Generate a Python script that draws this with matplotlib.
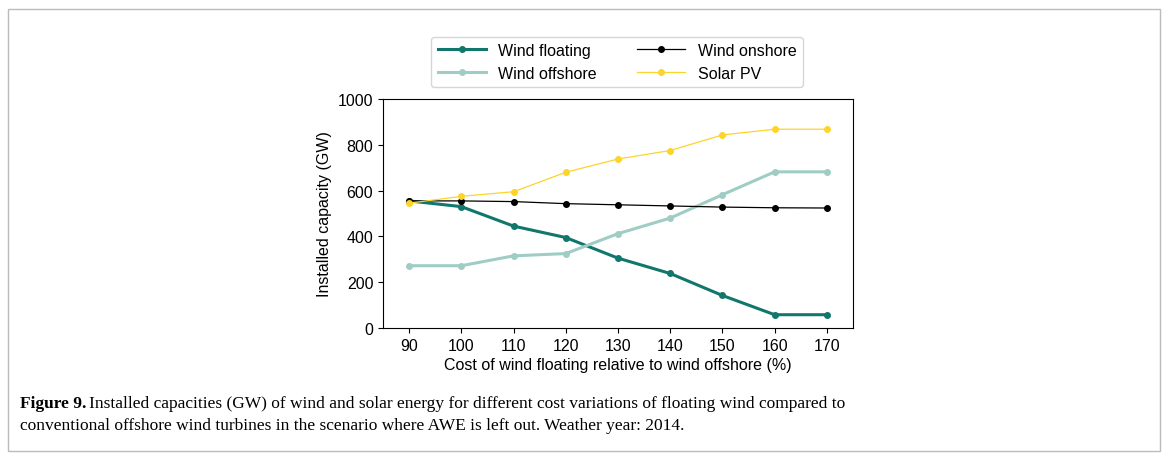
import matplotlib
matplotlib.use("Agg")
import matplotlib.pyplot as plt
from matplotlib.patches import Rectangle

plt.rcParams['font.family'] = ['Liberation Sans', 'DejaVu Sans']

cost = [90, 100, 110, 120, 130, 140, 150, 160, 170]
wind_floating = [555, 530, 445, 395, 305, 238, 142, 58, 58]
wind_offshore = [272, 272, 315, 325, 412, 480, 582, 682, 682]
wind_onshore = [555, 555, 552, 543, 538, 533, 528, 525, 524]
solar_pv = [545, 575, 595, 680, 738, 775, 843, 868, 868]

W, H = 1168, 460
fig = plt.figure(figsize=(W/100, H/100), dpi=100)
fig.patches.append(Rectangle((8/W, 1-452/H), 1152/W, 442/H, transform=fig.transFigure,
                             fill=False, edgecolor="#bbbbbb", lw=1))
ax = fig.add_axes([383/W, 1-329/H, 470/W, 229/H])
ax.plot(cost, wind_floating, color="#11766b", lw=2.2, marker="o", ms=4, label="Wind floating")
ax.plot(cost, wind_offshore, color="#9fcdc6", lw=2.2, marker="o", ms=4, label="Wind offshore")
ax.plot(cost, wind_onshore, color="black", lw=0.9, marker="o", ms=4, label="Wind onshore")
ax.plot(cost, solar_pv, color="#fdd42a", lw=0.9, marker="o", ms=4, label="Solar PV")
ax.set_xlim(85, 175)
ax.set_ylim(0, 1000)
ax.set_xticks(cost)
ax.set_yticks(range(0, 1001, 200))
ax.tick_params(labelsize=11.5)
ax.set_xlabel("Cost of wind floating relative to wind offshore (%)", fontsize=11.5, labelpad=3)
ax.set_ylabel("Installed capacity (GW)", fontsize=11.5)
h, l = ax.get_legend_handles_labels()
fig.legend(h, l, ncol=2, loc="center", bbox_to_anchor=(617/W, 1-63/H), fontsize=11.5,
           frameon=True, edgecolor="#cccccc", fancybox=True, handlelength=3, columnspacing=2.5)
t = fig.text(20/W, 1-404/H, "Figure 9.", fontsize=12.5, family="Liberation Serif",
             weight="bold", va="center")
fig.canvas.draw()
bb = t.get_window_extent()
fig.text((bb.x1 + 3)/W, 1-404/H,
         "Installed capacities (GW) of wind and solar energy for different cost variations of floating wind compared to",
         fontsize=12.5, family="Liberation Serif", va="center")
fig.text(20/W, 1-426/H,
         "conventional offshore wind turbines in the scenario where AWE is left out. Weather year: 2014.",
         fontsize=12.5, family="Liberation Serif", va="center")
fig.savefig("out.png", dpi=100)
